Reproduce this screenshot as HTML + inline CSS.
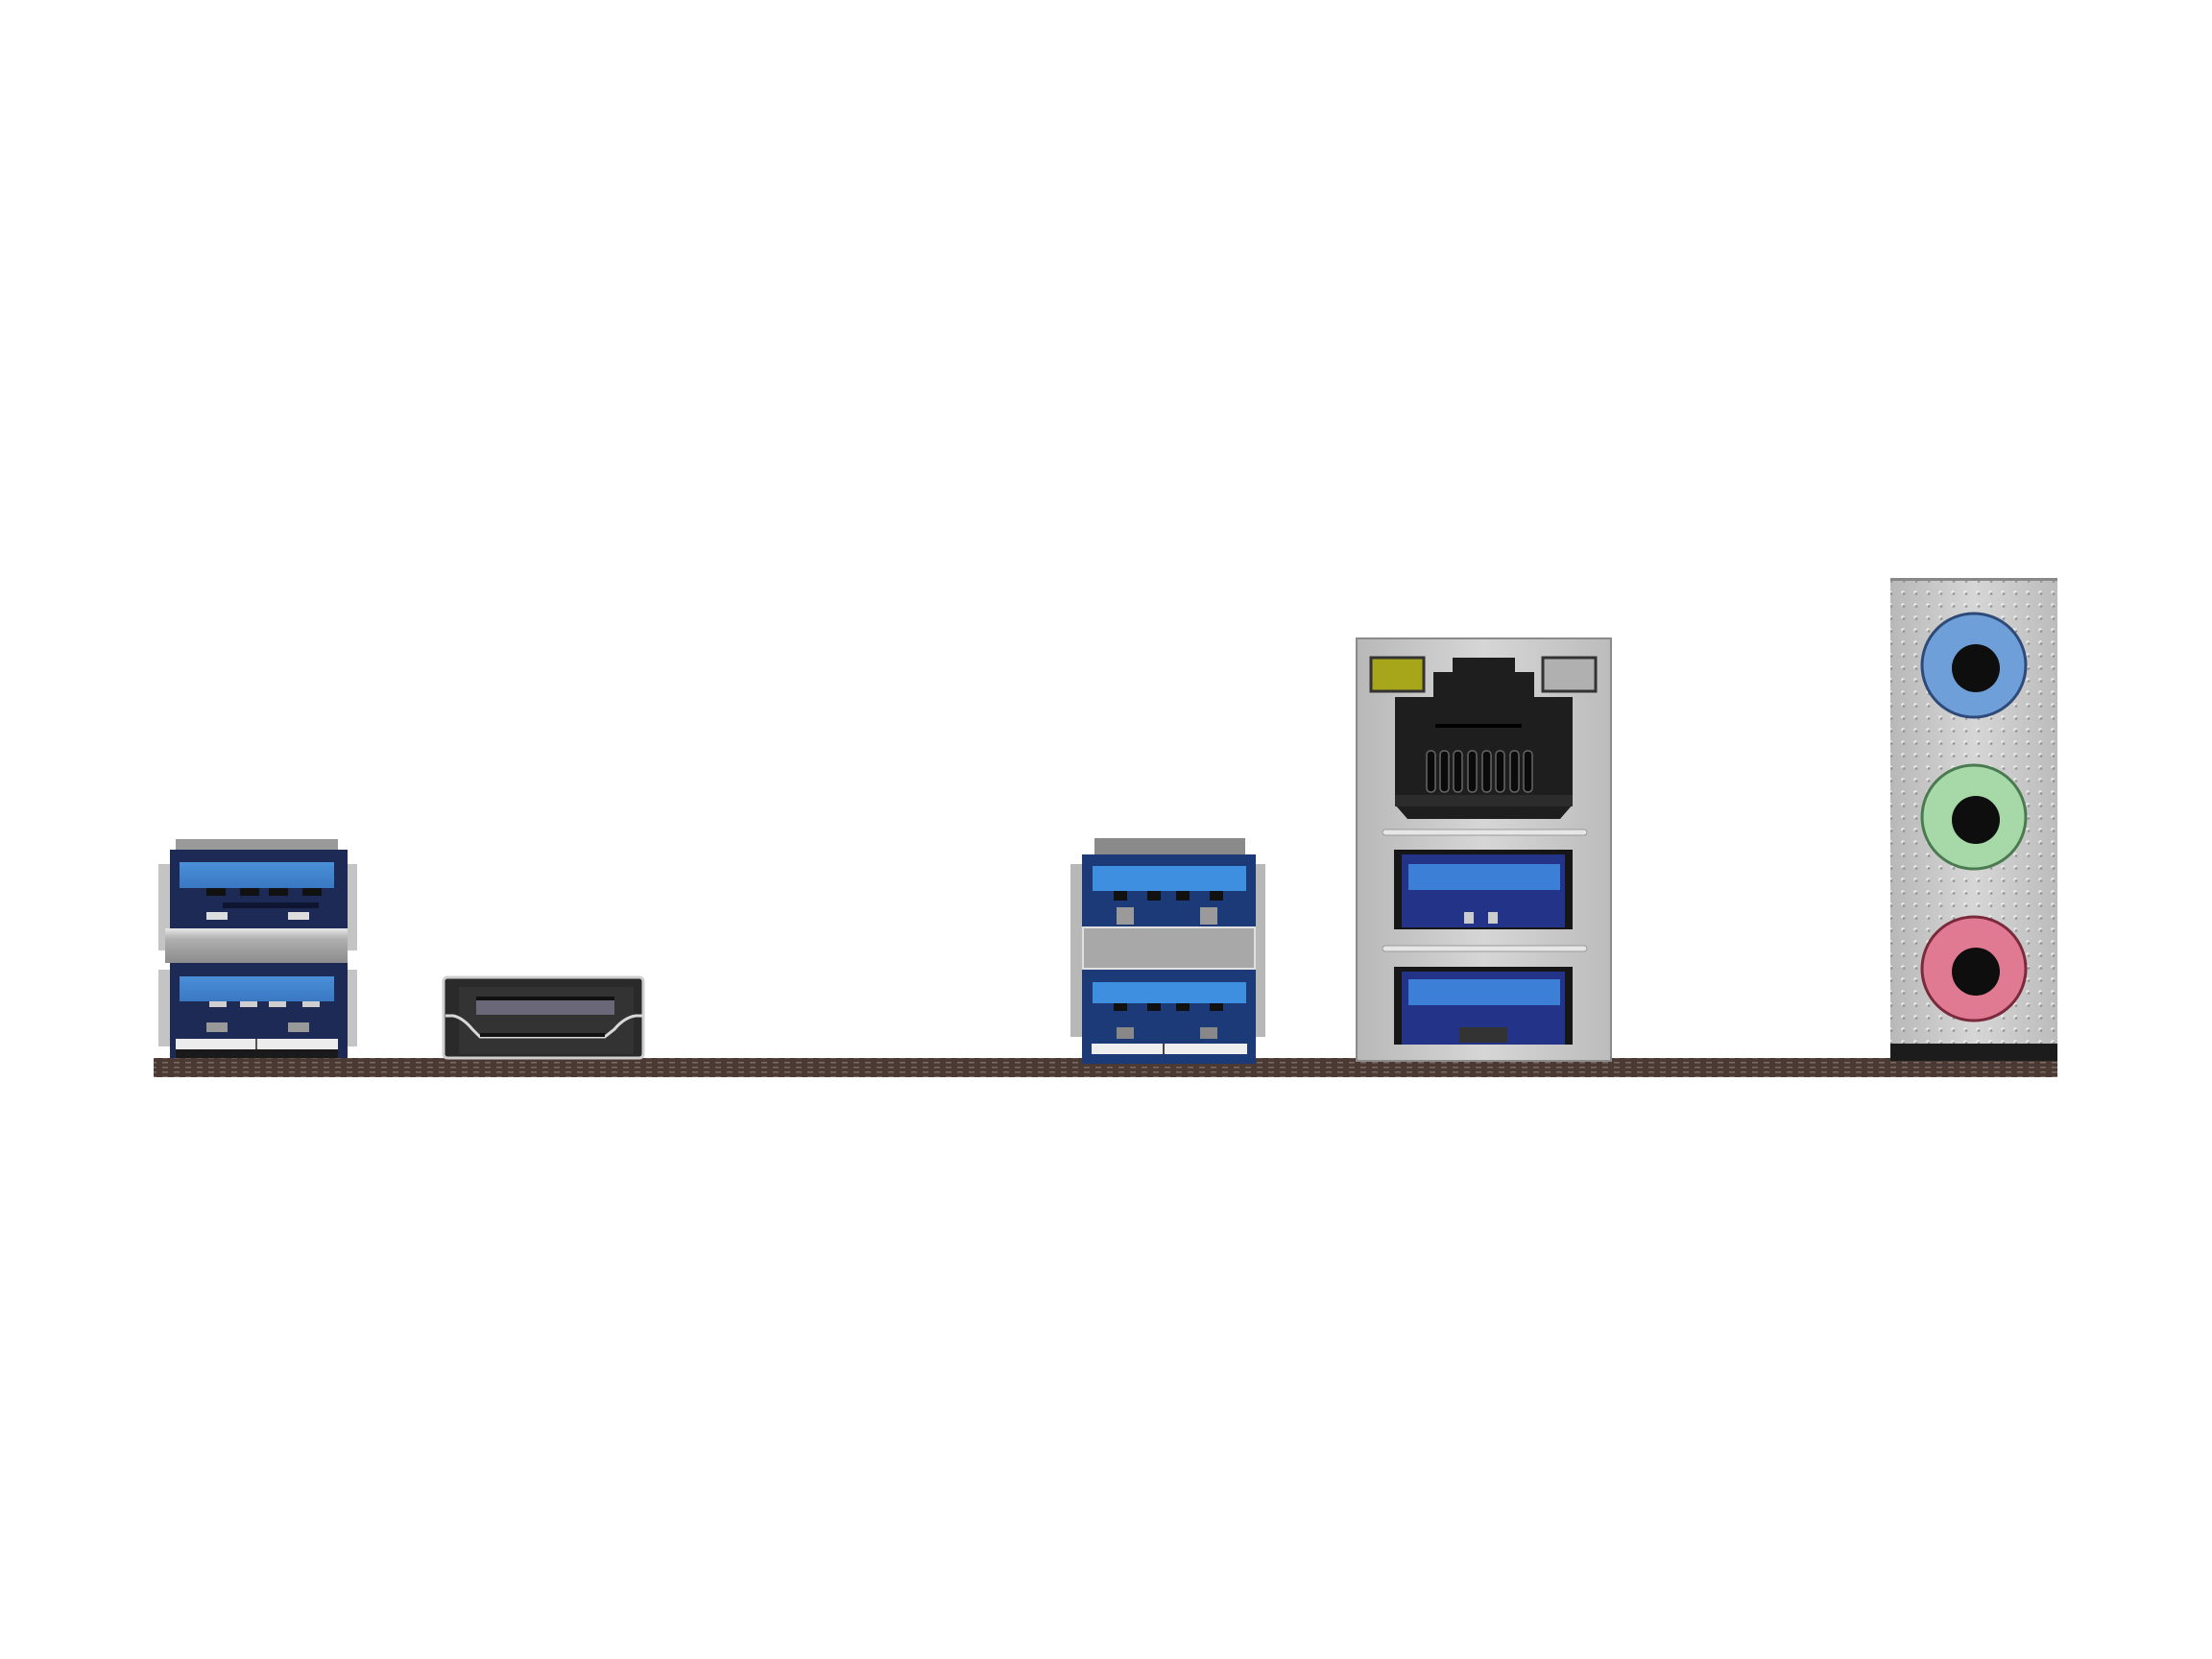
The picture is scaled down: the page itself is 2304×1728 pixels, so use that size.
<!DOCTYPE html>
<html><head><meta charset="utf-8"><style>html,body{margin:0;padding:0;background:#fff;width:2304px;height:1728px;overflow:hidden}</style></head>
<body>
<svg width="2304" height="1728" viewBox="0 0 2304 1728" xmlns="http://www.w3.org/2000/svg">
<defs>
<linearGradient id="silver" x1="0" y1="0" x2="1" y2="0">
<stop offset="0" stop-color="#b8b8b8"/><stop offset="0.5" stop-color="#d6d6d6"/><stop offset="1" stop-color="#bcbcbc"/></linearGradient>
<linearGradient id="metalbar" x1="0" y1="0" x2="0" y2="1">
<stop offset="0" stop-color="#e8e8e8"/><stop offset="0.3" stop-color="#b0b0b0"/><stop offset="1" stop-color="#8c8c8c"/></linearGradient>
<linearGradient id="tongue" x1="0" y1="0" x2="0" y2="1">
<stop offset="0" stop-color="#4a8fd8"/><stop offset="1" stop-color="#3a78c4"/></linearGradient>
<pattern id="dots" width="13" height="13" patternUnits="userSpaceOnUse">
<circle cx="6" cy="6" r="1.8" fill="#f4f4f4"/><circle cx="7" cy="7.5" r="1.4" fill="#8a8a8a"/></pattern>
<pattern id="pcb" width="12" height="5" patternUnits="userSpaceOnUse">
<rect width="12" height="5" fill="#4b3a34"/><rect x="1" y="1" width="6" height="1.5" fill="#7a6a62"/></pattern>
</defs>

<!-- PCB strip -->
<rect x="160" y="1102" width="1983" height="20" fill="url(#pcb)"/>

<!-- USB stack 1 -->
<g>
<rect x="165" y="900" width="14" height="90" fill="#c4c4c4"/>
<rect x="358" y="900" width="14" height="90" fill="#c4c4c4"/>
<rect x="165" y="1010" width="14" height="80" fill="#c4c4c4"/>
<rect x="358" y="1010" width="14" height="80" fill="#c4c4c4"/>
<rect x="183" y="874" width="169" height="14" fill="#9a9a9a"/>
<rect x="177" y="885" width="185" height="217" fill="#1c2a55"/>
<rect x="187" y="898" width="161" height="27" fill="url(#tongue)"/>
<g fill="#111"><rect x="215" y="925" width="20" height="8"/><rect x="250" y="925" width="20" height="8"/><rect x="280" y="925" width="20" height="8"/><rect x="315" y="925" width="20" height="8"/></g>
<rect x="232" y="940" width="100" height="6" fill="#0e1530"/>
<rect x="215" y="950" width="22" height="8" fill="#ddd"/><rect x="300" y="950" width="22" height="8" fill="#ddd"/>
<rect x="172" y="967" width="190" height="36" fill="url(#metalbar)"/>
<rect x="187" y="1017" width="161" height="26" fill="url(#tongue)"/>
<g fill="#cfcfcf"><rect x="218" y="1043" width="18" height="6"/><rect x="250" y="1043" width="18" height="6"/><rect x="280" y="1043" width="18" height="6"/><rect x="315" y="1043" width="18" height="6"/></g>
<rect x="215" y="1065" width="22" height="10" fill="#999"/><rect x="300" y="1065" width="22" height="10" fill="#999"/>
<rect x="183" y="1082" width="169" height="11" fill="#ececec"/>
<rect x="266" y="1082" width="2" height="11" fill="#555"/>
<rect x="183" y="1093" width="169" height="9" fill="#1a1a1a"/>
</g>

<!-- HDMI -->
<g>
<rect x="462" y="1018" width="208" height="84" rx="4" fill="#2a2a2a" stroke="#cfcfcf" stroke-width="3"/>
<rect x="478" y="1028" width="182" height="70" fill="#333"/>
<rect x="496" y="1042" width="144" height="15" fill="#6a6878"/>
<rect x="496" y="1038" width="144" height="4" fill="#111"/>
<path d="M464 1058 L472 1058 Q482 1060 492 1072 L500 1080 L630 1080 L640 1072 Q650 1060 662 1058 L670 1058" fill="none" stroke="#d8d8d8" stroke-width="3"/>
<rect x="500" y="1076" width="130" height="4" fill="#111"/>
</g>

<!-- USB stack 2 -->
<g>
<rect x="1115" y="900" width="14" height="180" fill="#b8b8b8"/>
<rect x="1304" y="900" width="14" height="180" fill="#b8b8b8"/>
<rect x="1140" y="873" width="157" height="17" fill="#8a8a8a"/>
<rect x="1127" y="890" width="181" height="218" fill="#1d3a78"/>
<rect x="1138" y="902" width="160" height="26" fill="#3f8fe0"/>
<g fill="#111"><rect x="1160" y="928" width="14" height="10"/><rect x="1195" y="928" width="14" height="10"/><rect x="1225" y="928" width="14" height="10"/><rect x="1260" y="928" width="14" height="10"/></g>
<rect x="1163" y="945" width="18" height="18" fill="#9a9a9a"/><rect x="1250" y="945" width="18" height="18" fill="#9a9a9a"/>
<rect x="1128" y="966" width="179" height="43" fill="#a8a8a8" stroke="#e0e0e0" stroke-width="2"/>
<rect x="1138" y="1023" width="160" height="22" fill="#3f8fe0"/>
<g fill="#111"><rect x="1160" y="1045" width="14" height="8"/><rect x="1195" y="1045" width="14" height="8"/><rect x="1225" y="1045" width="14" height="8"/><rect x="1260" y="1045" width="14" height="8"/></g>
<rect x="1163" y="1070" width="18" height="12" fill="#888"/><rect x="1250" y="1070" width="18" height="12" fill="#888"/>
<rect x="1137" y="1087" width="162" height="11" fill="#eeeeee"/>
<rect x="1211" y="1087" width="2" height="11" fill="#444"/>
</g>

<!-- LAN + USB block -->
<g>
<rect x="1413" y="665" width="265" height="440" fill="url(#silver)" stroke="#8a8a8a" stroke-width="2"/>
<rect x="1428" y="685" width="55" height="35" fill="#a7a51a" stroke="#333" stroke-width="3"/>
<rect x="1607" y="685" width="55" height="35" fill="#b0b0b0" stroke="#333" stroke-width="3"/>
<path d="M1513 685 L1578 685 L1578 700 L1598 700 L1598 726 L1638 726 L1638 838 L1625 853 L1466 853 L1453 838 L1453 726 L1493 726 L1493 700 L1513 700 Z" fill="#1e1e1e"/>
<rect x="1495" y="754" width="90" height="4" fill="#000"/>
<g fill="#0a0a0a" stroke="#666" stroke-width="1.5">
<rect x="1486" y="782" width="9" height="43" rx="4"/><rect x="1500" y="782" width="9" height="43" rx="4"/><rect x="1514" y="782" width="9" height="43" rx="4"/><rect x="1529" y="782" width="9" height="43" rx="4"/><rect x="1544" y="782" width="9" height="43" rx="4"/><rect x="1558" y="782" width="9" height="43" rx="4"/><rect x="1573" y="782" width="9" height="43" rx="4"/><rect x="1587" y="782" width="9" height="43" rx="4"/>
</g>
<rect x="1453" y="828" width="185" height="12" fill="#2c2c2c"/>
<rect x="1440" y="864" width="213" height="6" rx="3" fill="#e6e6e6" stroke="#999" stroke-width="1"/>
<rect x="1452" y="885" width="186" height="83" fill="#161616"/>
<rect x="1460" y="890" width="170" height="76" fill="#223388"/>
<rect x="1467" y="900" width="158" height="27" fill="#3b7fd6"/>
<rect x="1525" y="950" width="10" height="12" fill="#ccc"/><rect x="1550" y="950" width="10" height="12" fill="#ccc"/>
<rect x="1440" y="985" width="213" height="6" rx="3" fill="#e6e6e6" stroke="#999" stroke-width="1"/>
<rect x="1452" y="1007" width="186" height="81" fill="#161616"/>
<rect x="1460" y="1012" width="170" height="76" fill="#223388"/>
<rect x="1467" y="1020" width="158" height="27" fill="#3b7fd6"/>
<rect x="1520" y="1070" width="50" height="16" fill="#333"/>
</g>

<!-- Audio panel -->
<g>
<rect x="1969" y="602" width="174" height="485" fill="url(#silver)"/>
<rect x="1969" y="602" width="174" height="485" fill="url(#dots)" opacity="0.8"/>
<rect x="1969" y="602" width="174" height="3" fill="#888"/>
<rect x="1969" y="1087" width="174" height="18" fill="#1c1c1c"/>
<circle cx="2056" cy="693" r="54" fill="#6e9fd8" stroke="#2d4a78" stroke-width="3"/>
<circle cx="2058" cy="696" r="25" fill="#0e0e0e"/>
<circle cx="2056" cy="851" r="54" fill="#a6d8a8" stroke="#4a7a50" stroke-width="3"/>
<circle cx="2058" cy="854" r="25" fill="#0e0e0e"/>
<circle cx="2056" cy="1009" r="54" fill="#e07a92" stroke="#7a2a3c" stroke-width="3"/>
<circle cx="2058" cy="1012" r="25" fill="#0e0e0e"/>
</g>
</svg>
</body></html>
